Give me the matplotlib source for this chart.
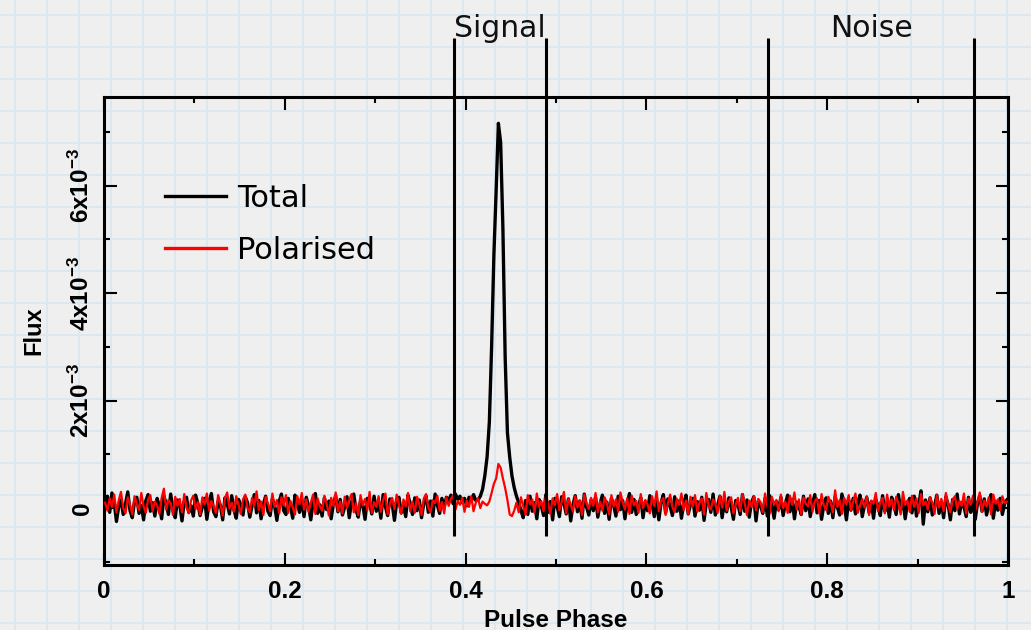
import numpy as np
import matplotlib
matplotlib.use('Agg')
import matplotlib.pyplot as plt
from matplotlib.ticker import MultipleLocator

# ── Data (flux in units of 1e-5, 400 phase bins) ─────────────────────────────
total_flux_e5 = [
    5, 22, -8, 28, 10, -25, 3, 15, -12, 8, 30, -5, -18, 12, 20, -10, 5, -22, 14, 25,
    -6, 10, -15, 18, 3, -20, 22, 8, -12, 26, -3, -18, 15, 6, -24, 12, 20, -8, 4, -15,
    24, 9, -14, 2, 18, -21, 11, 27, -7, -16, 13, 5, -22, 19, 8, -11, 23, -4, -19, 16,
    6, -13, 21, 10, -17, 4, 25, -9, 14, -20, 7, 22, -6, -14, 17, 3, -23, 12, 26, -5,
    -12, 18, 2, -19, 24, 9, -8, 15, -16, 20, 4, -22, 11, 27, -10, 6, -15, 19, -3, 13,
    -20, 8, 23, -7, 16, -13, 2, 21, -18, 10, 26, -4, -17, 14, 5, -21, 18, 9, -11, 22,
    -6, 12, -19, 25, 3, -14, 17, 8, -23, 11, 20, -9, 4, -16, 24, 7, -12, 19, -5, 15,
    -18, 9, 22, -8, 13, -15, 26, 5, -10, 18, 2, 20, 14, 24, 8, 26, 16, 22, 10, 18,
    4, 20, 12, 25, 14, 15, 22, 35, 60, 95, 160, 300, 470, 590, 716, 680, 520, 280, 140, 95,
    60, 38, 22, 10, -5, -18, 14, -12, 22, -6, 10, -20, 16, 4, -14, 25, -8, 12, -22, 18,
    3, -16, 21, 9, -11, 17, -24, 6, 23, -7, 13, -19, 26, 2, -13, 15, -5, 20, -17, 8,
    24, -10, 11, -21, 18, 5, -15, 22, -3, 14, -20, 9, 27, -8, 16, -12, 4, 19, -18, 12,
    -5, 23, 7, -16, 15, -22, 10, 25, -9, 17, 3, -14, 21, -6, 13, -19, 8, 24, -11, 6,
    18, -15, 12, -4, 20, -23, 9, 16, -8, 26, -13, 5, 22, -18, 11, -7, 19, 2, -21, 14,
    7, -12, 25, -6, 15, -17, 10, 21, -24, 13, 4, -10, 18, -15, 23, 6, -19, 12, -3, 20,
    -14, 9, 24, -7, 16, -20, 11, 3, -12, 22, -5, 17, -16, 8, 25, -9, 14, -21, 6, 19,
    -10, 13, -18, 21, 2, -13, 26, 7, -22, 15, -4, 18, -11, 10, 24, -16, 5, 20, -8, 12,
    -19, 16, 3, -14, 23, -6, 11, -17, 20, 8, -12, 25, -3, 14, -20, 9, 18, -9, 22, -15,
    6, 32, -30, 15, -7, 19, -13, 4, 24, -10, 12, -18, 21, 7, -22, 16, -5, 26, -11, 10,
    3, -16, 20, -8, 14, -21, 9, 23, -6, 17, -13, 5, 25, -19, 11, -4, 18, -12, 8, 15,
]

polar_flux_e5 = [
    10, -5, 18, 2, 25, -8, 14, 30, 0, -10, 20, 6, -12, 22, 8, -4, 28, 3, -9, 16,
    24, -6, 12, 5, -11, 19, 36, -3, 15, 9, -13, 21, 4, 17, -8, 26, 1, -10, 14, 23,
    -2, 11, -12, 20, 7, 27, -5, 13, 3, -9, 24, 8, -14, 18, 29, -1, 10, -7, 22, 6,
    -11, 16, 25, 0, -8, 19, 4, 31, -4, 12, -13, 21, 9, -6, 27, 2, 15, -10, 20, 5,
    24, -9, 13, 1, -12, 22, 7, 28, -3, 16, -7, 10, 25, -11, 18, 3, -5, 23, 8, -14,
    19, 4, 29, -6, 12, -10, 21, 0, 15, 26, -8, 9, -13, 24, 5, 17, -4, 30, -9, 11,
    2, 22, -7, 14, 27, -12, 8, 19, -2, 25, 6, -11, 16, 3, 28, -6, 12, -9, 21, 7,
    -13, 18, 26, 1, -8, 15, 9, 23, -5, 11, -10, 20, 4, 17, 24, -3, 13, 6, 19, -7,
    14, 2, 22, -6, 10, 18, 0, 12, 8, 5, 12, 28, 45, 55, 82, 75, 55, 37, 15, -12,
    -15, -5, 10, -8, 20, 3, -12, 24, 7, 16, -9, 27, 2, 13, -6, 21, 9, -11, 18, 5,
    26, -4, 11, 30, -10, 17, 6, -7, 22, 1, 14, -13, 25, 8, -2, 19, 4, 28, -8, 12,
    -5, 20, 9, -12, 24, 3, 16, -7, 29, 11, -3, 18, -11, 23, 5, 13, -9, 26, 0, 15,
    7, -10, 22, 4, 31, -6, 12, 19, -13, 9, 25, 2, -8, 17, 6, 27, -4, 14, -11, 21,
    3, 24, -7, 10, 18, -12, 28, 5, -3, 16, 8, -9, 23, 1, 30, -5, 13, 20, -10, 6,
    19, -6, 26, 9, -13, 14, 2, 22, -4, 17, 11, -8, 27, 4, -11, 21, 7, 15, -6, 25,
    0, 12, -9, 23, 6, 29, -3, 16, -12, 20, 8, 3, 24, -7, 13, 18, -10, 26, 5, -4,
    21, 10, -8, 33, 2, 15, -11, 19, 7, 24, -5, 12, 27, -9, 4, 17, 1, 22, -13, 14,
    8, 28, -6, 11, 19, -10, 25, 3, 16, -4, 21, 9, -12, 30, 6, 14, -7, 23, 2, 18,
    -9, 26, 5, 12, -3, 20, 10, -11, 24, 1, 17, -6, 28, 7, -8, 15, 22, -2, 13, 4,
    27, -10, 18, 6, 23, -5, 11, 29, -7, 14, 3, 20, -12, 25, 8, 16, -4, 22, 9, 12,
]

window_edges = [0.3872, 0.4893, 0.7349, 0.9624]
window_names = ['Signal', 'Noise']

x_ticks = [0, 0.2, 0.4, 0.6, 0.8, 1.0]
x_ticklabels = ['0', '0.2', '0.4', '0.6', '0.8', '1']
y_ticks = [0, 2e-3, 4e-3, 6e-3]
y_ticklabels = ['0', r'$2\mathrm{x}10^{-3}$', r'$4\mathrm{x}10^{-3}$', r'$6\mathrm{x}10^{-3}$']

total = np.array(total_flux_e5) * 1e-5
polar = np.array(polar_flux_e5) * 1e-5
phase = (np.arange(len(total)) + 0.5) / len(total)

# ── Style ─────────────────────────────────────────────────────────────────────
plt.rcParams.update({
    'font.family': 'DejaVu Sans',
    'mathtext.fontset': 'custom',
    'mathtext.rm': 'Liberation Sans:bold',
    'mathtext.it': 'Liberation Sans:bold',
    'mathtext.bf': 'Liberation Sans:bold',
})
BOLD = dict(family='Liberation Sans', weight='bold')
PAPER = '#efefef'
GRID = '#dbe8ef'

W, H = 1031, 630
fig = plt.figure(figsize=(W / 100, H / 100), dpi=100)
fig.patch.set_facecolor(PAPER)

# graph-paper background
bg = fig.add_axes([0, 0, 1, 1], zorder=-5)
bg.set_xlim(0, W)
bg.set_ylim(H, 0)
bg.axis('off')
for g in np.arange(15, W, 32):
    bg.axvline(g, color=GRID, lw=1.3, zorder=0)
for g in np.arange(15, H, 32):
    bg.axhline(g, color=GRID, lw=1.3, zorder=0)

ax = fig.add_axes([0.1009, 0.1032, 0.8768, 0.7429])
ax.set_facecolor('none')

ax.plot(phase, total, color='black', lw=2.4, label='Total', zorder=3)
ax.plot(phase, polar, color='#ff0000', lw=1.6, label='Polarised', zorder=4)

ax.set_xlim(0, 1)
ax.set_ylim(-1.06e-3, 7.65e-3)

# on/off-pulse windows
ax.vlines(window_edges, -0.52e-3, 8.75e-3, color='black', lw=2.2,
          clip_on=False, zorder=5)
for name, lo, hi in zip(window_names, window_edges[0::2], window_edges[1::2]):
    ax.text((lo + hi) / 2, 8.77e-3, name, ha='center', va='baseline',
            fontsize=21.5, color='#111111', clip_on=False)

# axes / ticks
for s in ax.spines.values():
    s.set_linewidth(2.2)
ax.set_xticks(x_ticks)
ax.set_xticklabels(x_ticklabels, fontdict=BOLD, fontsize=17.5)
ax.set_yticks(y_ticks)
ax.set_yticklabels(y_ticklabels, fontdict=BOLD, fontsize=17.5,
                   rotation=90, va='center')
ax.xaxis.set_minor_locator(MultipleLocator(0.1))
ax.yaxis.set_minor_locator(MultipleLocator(1e-3))
ax.tick_params(which='both', direction='in', top=True, right=True, width=1.5)
ax.tick_params(which='major', length=9)
ax.tick_params(which='minor', length=4.5)
ax.tick_params(axis='x', pad=11)
ax.tick_params(axis='y', pad=7)

ax.set_xlabel('Pulse Phase', fontdict=BOLD, fontsize=17.5)
ax.xaxis.set_label_coords(0.5, -0.094)
ax.set_ylabel('Flux', fontdict=BOLD, fontsize=17)
ax.yaxis.set_label_coords(-0.0653, 0.5)

leg = ax.legend(loc='center left', bbox_to_anchor=(0.0675, 0.7276),
                frameon=False, fontsize=22, handlelength=2.0,
                handletextpad=0.35, labelspacing=0.75, borderpad=0,
                borderaxespad=0)
for h in leg.get_lines():
    h.set_linewidth(2.4)

fig.savefig('out.png', dpi=100, facecolor=fig.get_facecolor())
